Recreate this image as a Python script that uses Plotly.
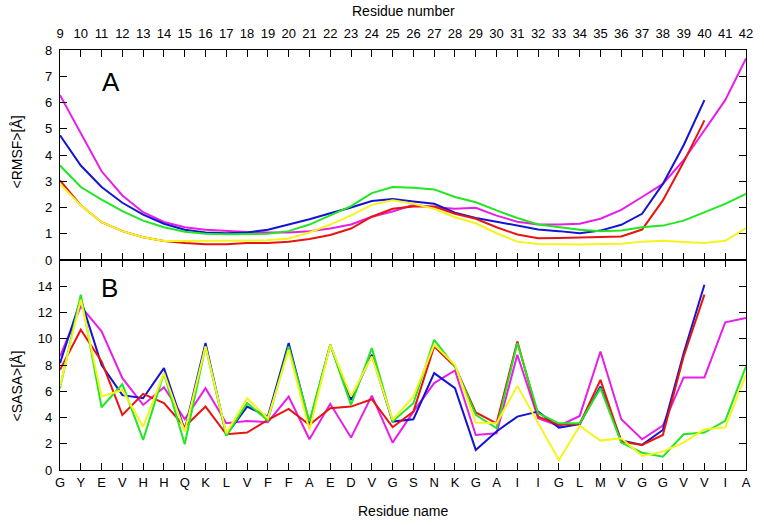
import plotly.graph_objects as go

residue_numbers = list(range(9, 43))
residue_names = ["G", "Y", "E", "V", "H", "H", "Q", "K", "L", "V", "F", "F", "A", "E", "D", "V",
                 "G", "S", "N", "K", "G", "A", "I", "I", "G", "L", "M", "V", "G", "G", "V", "V", "I", "A"]

# Panel A: <RMSF> (red and blue end at residue 40)
rmsf_red = [3.03, 2.08, 1.44, 1.1, 0.87, 0.72, 0.65, 0.6, 0.6, 0.65, 0.65, 0.7, 0.8, 0.95, 1.2, 1.65,
            1.95, 2.04, 2.04, 1.76, 1.57, 1.25, 0.97, 0.83, 0.84, 0.85, 0.88, 0.9, 1.16, 2.27, 3.73, 5.32]
rmsf_blue = [4.75, 3.6, 2.78, 2.18, 1.73, 1.38, 1.15, 1.05, 1.02, 1.05, 1.15, 1.35, 1.55, 1.78, 2.0, 2.25,
             2.32, 2.23, 2.14, 1.8, 1.6, 1.46, 1.31, 1.16, 1.1, 1.02, 1.12, 1.34, 1.76, 2.9, 4.37, 6.09]
rmsf_magenta = [6.28, 4.8, 3.38, 2.46, 1.82, 1.45, 1.25, 1.15, 1.1, 1.07, 1.05, 1.05, 1.1, 1.2, 1.35, 1.65,
                1.85, 2.1, 2.01, 1.95, 1.99, 1.69, 1.46, 1.35, 1.35, 1.38, 1.57, 1.91, 2.4, 2.9, 3.8, 4.94, 6.09, 7.68]
rmsf_green = [3.6, 2.78, 2.3, 1.86, 1.5, 1.25, 1.08, 1.0, 0.98, 0.98, 1.0, 1.1, 1.35, 1.7, 2.05, 2.55,
              2.78, 2.75, 2.69, 2.4, 2.2, 1.89, 1.6, 1.35, 1.25, 1.15, 1.1, 1.12, 1.25, 1.31, 1.5, 1.82, 2.14, 2.52]
rmsf_yellow = [2.9, 2.08, 1.44, 1.1, 0.87, 0.72, 0.72, 0.73, 0.75, 0.75, 0.75, 0.82, 1.05, 1.35, 1.7, 2.1,
               2.28, 2.14, 1.95, 1.63, 1.4, 1.02, 0.7, 0.61, 0.59, 0.59, 0.61, 0.62, 0.7, 0.73, 0.69, 0.65, 0.73, 1.22]

# Panel B: <SASA>
sasa_red = [7.63, 10.69, 8.27, 4.2, 5.8, 5.09, 3.3, 4.83, 2.72, 2.85, 3.82, 4.66, 3.44, 4.71, 4.83, 5.39,
            3.26, 4.45, 9.41, 7.89, 4.38, 3.56, 9.8, 4.07, 3.44, 3.51, 6.87, 2.16, 1.91, 2.67, 8.65, 13.36]
sasa_blue = [8.14, 13.0, 8.0, 5.7, 5.47, 7.76, 3.05, 9.67, 2.67, 4.83, 4.07, 9.67, 3.56, 9.54, 5.34, 8.78,
             3.69, 3.87, 7.38, 6.23, 1.53, 2.93, 4.07, 4.45, 3.23, 3.49, 6.36, 2.24, 1.91, 3.05, 8.9, 14.12]
sasa_magenta = [8.65, 12.47, 10.56, 7.0, 4.96, 6.31, 3.87, 6.23, 3.56, 3.74, 3.64, 5.6, 2.34, 5.04, 2.47, 5.67,
                2.09, 4.45, 6.62, 7.58, 2.67, 2.8, 8.78, 3.94, 3.36, 4.12, 9.03, 3.87, 2.34, 3.38, 7.05, 7.05, 11.25, 11.58]
sasa_green = [6.23, 13.36, 4.78, 6.54, 2.29, 7.38, 1.96, 9.41, 2.6, 5.1, 3.77, 9.41, 3.69, 9.54, 4.96, 9.29,
              3.69, 5.09, 9.92, 7.89, 4.2, 3.18, 9.67, 4.33, 3.56, 3.56, 6.23, 2.09, 1.32, 1.02, 2.72, 2.85, 3.74, 7.89]
sasa_yellow = [6.36, 12.98, 5.6, 6.1, 3.3, 7.38, 2.93, 9.41, 2.8, 5.47, 3.94, 9.16, 3.05, 9.54, 5.6, 8.65,
               3.82, 5.6, 9.54, 8.02, 3.61, 3.56, 6.41, 3.6, 0.76, 3.36, 2.24, 2.42, 1.07, 1.4, 2.09, 3.1, 3.23, 7.25]

colors = {"magenta": "#e81ee8", "blue": "#1414d2", "red": "#e8140f", "green": "#22e622", "yellow": "#f5f51e"}

FONT = "Liberation Sans, Arial, sans-serif"

fig = go.Figure()

series_a = [("magenta", rmsf_magenta), ("blue", rmsf_blue), ("red", rmsf_red),
            ("green", rmsf_green), ("yellow", rmsf_yellow)]
series_b = [("magenta", sasa_magenta), ("blue", sasa_blue), ("red", sasa_red),
            ("green", sasa_green), ("yellow", sasa_yellow)]

for name, vals in series_a:
    fig.add_trace(go.Scatter(x=residue_numbers[:len(vals)], y=vals, mode="lines",
                             line=dict(color=colors[name], width=2), xaxis="x", yaxis="y",
                             showlegend=False, hoverinfo="skip"))
for name, vals in series_b:
    fig.add_trace(go.Scatter(x=residue_numbers[:len(vals)], y=vals, mode="lines",
                             line=dict(color=colors[name], width=2), xaxis="x2", yaxis="y2",
                             showlegend=False, hoverinfo="skip"))

axis_common = dict(showline=True, linecolor="black", linewidth=1.3, mirror="ticks",
                   ticks="inside", ticklen=7, tickwidth=1.2, tickcolor="black",
                   showgrid=False, zeroline=False,
                   tickfont=dict(family=FONT, size=13, color="black"))

fig.update_layout(
    width=764, height=525,
    margin=dict(l=60, r=11, t=50, b=55),
    paper_bgcolor="white", plot_bgcolor="white",
    xaxis=dict(domain=[0, 1], anchor="y", side="top", range=[9, 42],
               tickvals=residue_numbers, ticktext=[str(n) for n in residue_numbers],
               ticklabelstandoff=6,
               **axis_common),
    yaxis=dict(domain=[0.5, 1], anchor="x", range=[0, 8], tickvals=list(range(0, 9)),
               ticklabelstandoff=4,
               **axis_common),
    xaxis2=dict(domain=[0, 1], anchor="y2", side="bottom", range=[9, 42],
                tickvals=residue_numbers, ticktext=residue_names,
                **axis_common),
    yaxis2=dict(domain=[0, 0.5], anchor="x2", range=[0, 16], tickvals=list(range(0, 15, 2)),
                ticklabelstandoff=4,
                **axis_common),
    annotations=[
        dict(text="Residue number", x=0.5, y=11, xref="paper", yref="paper", showarrow=False,
             xanchor="center", yanchor="middle", font=dict(family=FONT, size=14, color="black")),
        dict(text="Residue name", x=0.5, y=511, xref="paper", yref="paper", showarrow=False,
             xanchor="center", yanchor="middle", font=dict(family=FONT, size=14, color="black")),
        dict(text="&lt;RMSF&gt;[Å]", x=-0.062, y=0.757, xref="paper", yref="paper",
             xanchor="center", yanchor="middle",
             textangle=-90, showarrow=False, font=dict(family=FONT, size=14, color="black")),
        dict(text="&lt;SASA&gt;[Å]", x=-0.062, y=0.2, xref="paper", yref="paper",
             xanchor="center", yanchor="middle",
             textangle=-90, showarrow=False, font=dict(family=FONT, size=14, color="black")),
        dict(text="A", x=0.075, y=0.924, xref="paper", yref="paper", showarrow=False,
             xanchor="center", yanchor="middle",
             font=dict(family=FONT, size=26, color="black")),
        dict(text="B", x=0.072, y=0.433, xref="paper", yref="paper", showarrow=False,
             xanchor="center", yanchor="middle",
             font=dict(family=FONT, size=26, color="black")),
    ],
)

# convert pixel positions of the two axis titles to paper coordinates
plot_top, plot_h = 50, 420
for ann in fig.layout.annotations[:2]:
    ann.y = (plot_top + plot_h - ann.y) / plot_h

# remove the default page margin so the figure sits at the window's top-left corner
fig.write_html("out.html", config={"displayModeBar": False},
               post_script="document.body.style.margin='0';")
